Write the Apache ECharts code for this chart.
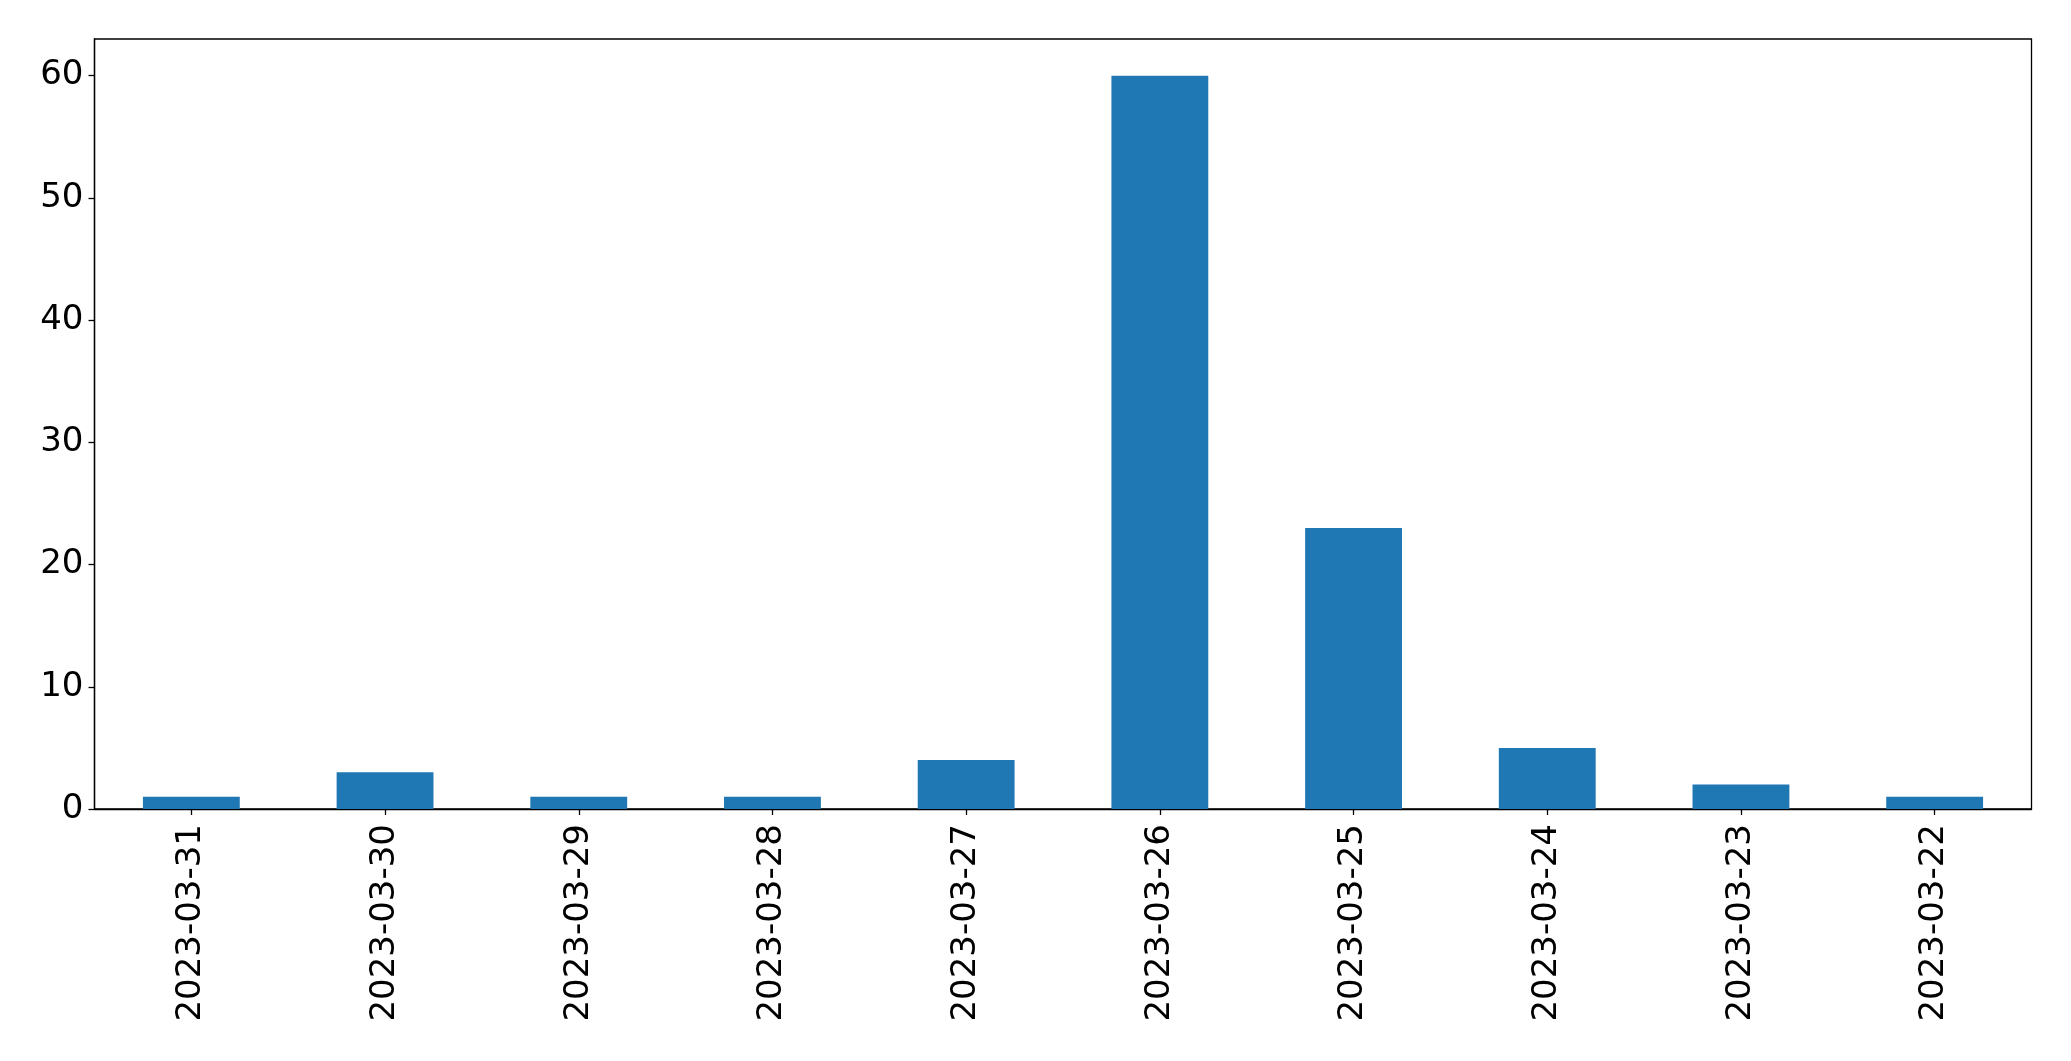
<!DOCTYPE html>
<html>
<head>
<meta charset="utf-8">
<script src="https://cdn.jsdelivr.net/npm/echarts@6/dist/echarts.min.js"></script>
<style>html,body{margin:0;padding:0;background:#fff}#c{width:2071px;height:1061px}</style>
</head>
<body>
<div id="c"></div>
<script>
const categories = ["2023-03-31","2023-03-30","2023-03-29","2023-03-28","2023-03-27","2023-03-26","2023-03-25","2023-03-24","2023-03-23","2023-03-22"];
const values = [1,3,1,1,4,60,23,5,2,1];
const yTicks = [0,10,20,30,40,50,60];

const chart = echarts.init(document.getElementById('c'));
chart.setOption({
  animation: false,
  backgroundColor: '#fff',
  textStyle: {fontFamily: 'DejaVu Sans'},
  grid: {left: 94.5, right: 39.5, top: 39, bottom: 252, containLabel: false, show: true, borderColor: '#000', borderWidth: 1.3, backgroundColor: 'transparent'},
  xAxis: {
    type: 'category',
    data: categories,
    axisLine: {show: true, lineStyle: {color: '#000', width: 1.3}},
    axisTick: {show: true, alignWithLabel: true, length: 6, lineStyle: {color: '#000', width: 1.3}},
    axisLabel: {rotate: 90, fontSize: 34, color: '#000', margin: 15, fontFamily: 'DejaVu Sans', interval: 0}
  },
  yAxis: {
    type: 'value',
    min: 0, max: 63,
    splitLine: {show: false},
    axisLine: {show: true, lineStyle: {color: '#000', width: 1.3}},
    axisTick: {show: true, length: 6, customValues: yTicks, lineStyle: {color: '#000', width: 1.3}},
    axisLabel: {fontSize: 34, color: '#000', margin: 11, fontFamily: 'DejaVu Sans', customValues: yTicks}
  },
  series: [{
    type: 'bar',
    data: values,
    barWidth: '50%',
    itemStyle: {color: '#1f77b4'}
  }]
});
</script>
</body>
</html>
